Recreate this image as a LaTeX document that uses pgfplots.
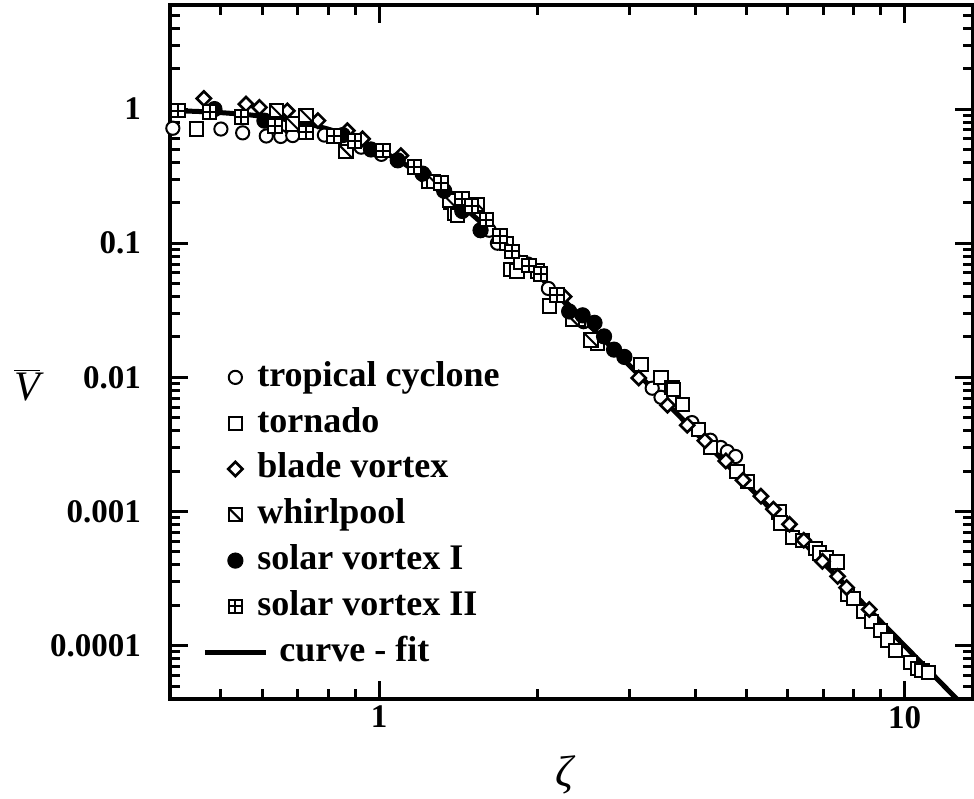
\documentclass[border=0pt]{standalone}
\usepackage{fontspec}
\setmainfont{Liberation Serif}
\usepackage{pgfplots}
\pgfplotsset{compat=1.18}
\usetikzlibrary{plotmarks}

\pgfdeclareplotmark{whirl}{%
  \pgfpathrectangle{\pgfqpoint{-\pgfplotmarksize}{-\pgfplotmarksize}}{\pgfqpoint{2\pgfplotmarksize}{2\pgfplotmarksize}}%
  \pgfusepathqfillstroke
  \pgfpathmoveto{\pgfqpoint{-\pgfplotmarksize}{\pgfplotmarksize}}%
  \pgfpathlineto{\pgfqpoint{\pgfplotmarksize}{-\pgfplotmarksize}}%
  \pgfusepathqstroke}
\pgfdeclareplotmark{boxplus}{%
  \pgfpathrectangle{\pgfqpoint{-\pgfplotmarksize}{-\pgfplotmarksize}}{\pgfqpoint{2\pgfplotmarksize}{2\pgfplotmarksize}}%
  \pgfusepathqfillstroke
  \pgfpathmoveto{\pgfqpoint{0pt}{-\pgfplotmarksize}}%
  \pgfpathlineto{\pgfqpoint{0pt}{\pgfplotmarksize}}%
  \pgfpathmoveto{\pgfqpoint{-\pgfplotmarksize}{0pt}}%
  \pgfpathlineto{\pgfqpoint{\pgfplotmarksize}{0pt}}%
  \pgfusepathqstroke}

\pgfplotsset{
  myleg/.style={legend image code/.code={\path[draw=none, fill=none] (-6pt,-3pt) rectangle (6pt,3pt); \draw[##1] plot coordinates {(0pt,0pt)};}},
  curveleg/.style={legend image code/.code={\path[draw=none, fill=none] (-6pt,-3pt) rectangle (6pt,3pt); \draw[##1, overlay] (-15.25pt,0pt) -- (15.25pt,0pt);}},
}

\begin{document}
\begin{tikzpicture}
\begin{axis}[
  at={(0,0)}, anchor=south west,
  scale only axis, width=401.5pt, height=347.15pt,
  xmode=log, ymode=log,
  xmin=0.4, xmax=13.5, ymin=4e-5, ymax=6,
  xtick={1,10}, xticklabels={1,10},
  ytick={0.0001,0.001,0.01,0.1,1}, yticklabels={0.0001,0.001,0.01,0.1,1},
  minor xtick={0.5,0.6,0.7,0.8,0.9,2,3,4,5,6,7,8,9},
  minor ytick={5e-5,6e-5,7e-5,8e-5,9e-5,2e-4,3e-4,4e-4,5e-4,6e-4,7e-4,8e-4,9e-4,2e-3,3e-3,4e-3,5e-3,6e-3,7e-3,8e-3,9e-3,0.02,0.03,0.04,0.05,0.06,0.07,0.08,0.09,0.2,0.3,0.4,0.5,0.6,0.7,0.8,0.9,2,3,4,5},
  xtick pos=both, ytick pos=both, tick align=inside,
  major tick length=9pt, minor tick length=5pt,
  tick style={line width=1.5pt, black},
  axis line style={line width=2pt},
  /pgf/number format/assume math mode=true,
  tick label style={font=\fontsize{16.5}{19}\selectfont\bfseries},
  yticklabel style={xshift=-11pt},
  xlabel={\textit{ζ}},
  ylabel={$\overline{\mbox{\itshape V}}$},
  every axis x label/.style={at={(axis description cs:0.493,-0.1095)}, anchor=center, font=\fontsize{22}{25}\selectfont},
  every axis y label/.style={at={(axis description cs:-0.178,0.452)}, anchor=center, font=\fontsize{21}{24}\selectfont},
  legend cell align=left,
  legend style={draw=none, fill=none, inner sep=0pt, at={(axis description cs:0.066,0.4883)}, anchor=north west,
    cells={anchor=west}, nodes={inner sep=0pt, text height=13pt, text depth=4pt},
    row sep=5.9pt, column sep=5pt, font=\fontsize{18}{21}\selectfont\bfseries},
]
% curve fit
\addplot[black, line width=2.5pt, forget plot] coordinates {
(0.40,0.975) (0.45,0.961) (0.50,0.941) (0.55,0.916) (0.60,0.885) (0.65,0.849)
(0.70,0.806) (0.75,0.760) (0.80,0.709) (0.85,0.657) (0.90,0.604) (0.95,0.551)
(1.00,0.500) (1.10,0.406) (1.20,0.325) (1.30,0.259) (1.40,0.207) (1.50,0.165)
(1.60,0.132) (1.80,0.0867) (2.00,0.0588) (2.25,0.0375) (2.50,0.0250) (2.75,0.0172)
(3.00,0.0122) (3.50,0.00662) (4.00,0.00389) (4.50,0.00243) (5.00,0.00160)
(6.00,0.000771) (7.00,0.000416) (8.00,0.000244) (9.00,0.000152) (10.0,0.0001)
(11.0,0.0000683) (12.0,0.0000482) (12.6,0.0000397) (13.0,0.000035)
};
% tropical cyclone
\addplot[black, only marks, mark=*, mark size=3.3pt, mark options={fill=white, line width=1pt}, myleg] coordinates {
(0.405,0.72) (0.50,0.71) (0.55,0.665) (0.61,0.63) (0.65,0.625) (0.685,0.635) (0.787,0.64)
(0.924,0.52) (1.01,0.46) (1.22,0.32) (1.38,0.215) (1.62,0.125) (1.68,0.10) (1.92,0.07)
(2.10,0.046) (2.45,0.026) (3.31,0.0083) (3.44,0.0071) (3.94,0.0046) (4.27,0.0034)
(4.47,0.0030) (4.6,0.0028) (4.77,0.00257)
};
\addlegendentry{tropical cyclone}
% tornado
\addplot[black, only marks, mark=square*, mark size=3.3pt, mark options={fill=white, line width=1pt}, myleg] coordinates {
(0.45,0.71) (1.24,0.29) (1.37,0.20) (1.39,0.168) (1.41,0.16) (1.78,0.064) (1.83,0.062)
(1.86,0.072) (2.11,0.034) (2.39,0.027) (2.6,0.018) (3.15,0.0124) (3.44,0.010) (3.61,0.0084)
(3.64,0.0081) (3.78,0.0063) (4.06,0.0041) (4.27,0.0030) (4.8,0.0020) (5.02,0.00168)
(5.77,0.00099) (5.81,0.00082) (6.12,0.00064) (6.39,0.00061) (6.77,0.00053) (6.9,0.00049)
(7.1,0.00045) (7.44,0.00042) (7.8,0.00024) (8.0,0.000224) (8.36,0.00018) (8.65,0.000152)
(9.0,0.000129) (9.29,0.00011) (9.6,0.000092) (10.25,0.000075) (10.6,0.000068)
(10.8,0.000065) (11.1,0.000063)
};
\addlegendentry{tornado}
% blade vortex
\addplot[black, only marks, mark=square*, mark size=2.5pt, mark options={fill=white, rotate=45, line width=1.3pt}, myleg] coordinates {
(0.464,1.2) (0.558,1.09) (0.592,1.03) (0.669,0.97) (0.765,0.82) (0.87,0.69) (0.93,0.60)
(1.10,0.45) (1.30,0.27) (2.25,0.04) (3.12,0.0099) (3.54,0.0062) (3.86,0.0044) (4.17,0.00337)
(4.57,0.00238) (4.93,0.00171) (5.33,0.0013) (5.63,0.00104) (6.04,0.000803) (6.43,0.00061)
(6.98,0.000425) (7.46,0.000328) (7.76,0.000271) (8.57,0.000186)
};
\addlegendentry{blade vortex}
% whirlpool
\addplot[black, only marks, mark=whirl, mark size=3.3pt, mark options={fill=white, line width=1pt}, myleg] coordinates {
(0.637,0.97) (0.685,0.775) (0.726,0.90) (0.865,0.48) (1.27,0.29) (1.36,0.207) (1.54,0.195)
(1.75,0.10) (2.0,0.062) (2.33,0.027) (2.53,0.019)
};
\addlegendentry{whirlpool}
% solar vortex I
\addplot[black, only marks, mark=*, mark size=3.8pt, mark options={fill=black, line width=0.5pt}, myleg] coordinates {
(0.486,1.0) (0.605,0.82) (0.853,0.64) (0.965,0.50) (1.085,0.415) (1.21,0.33) (1.33,0.246)
(1.44,0.174) (1.56,0.125) (2.30,0.031) (2.44,0.029) (2.57,0.0255) (2.68,0.0202) (2.80,0.0161)
(2.93,0.0142)
};
\addlegendentry{solar vortex I}
% solar vortex II
\addplot[black, only marks, mark=boxplus, mark size=3.4pt, mark options={fill=white, line width=1pt}, myleg] coordinates {
(0.414,0.975) (0.476,0.95) (0.547,0.87) (0.633,0.75) (0.726,0.67) (0.82,0.63) (0.898,0.58)
(1.016,0.49) (1.167,0.37) (1.31,0.28) (1.44,0.215) (1.50,0.19) (1.60,0.15) (1.70,0.113)
(1.79,0.087) (1.93,0.068) (2.03,0.059) (2.18,0.041)
};
\addlegendentry{solar vortex II}
\addlegendimage{black, line width=2.5pt, curveleg}
\addlegendentry{\hspace*{11pt}curve - fit}
\end{axis}
\pgfresetboundingbox
\useasboundingbox (-85pt,-49.5pt) rectangle (402pt,349.5pt);
\end{tikzpicture}
\end{document}
